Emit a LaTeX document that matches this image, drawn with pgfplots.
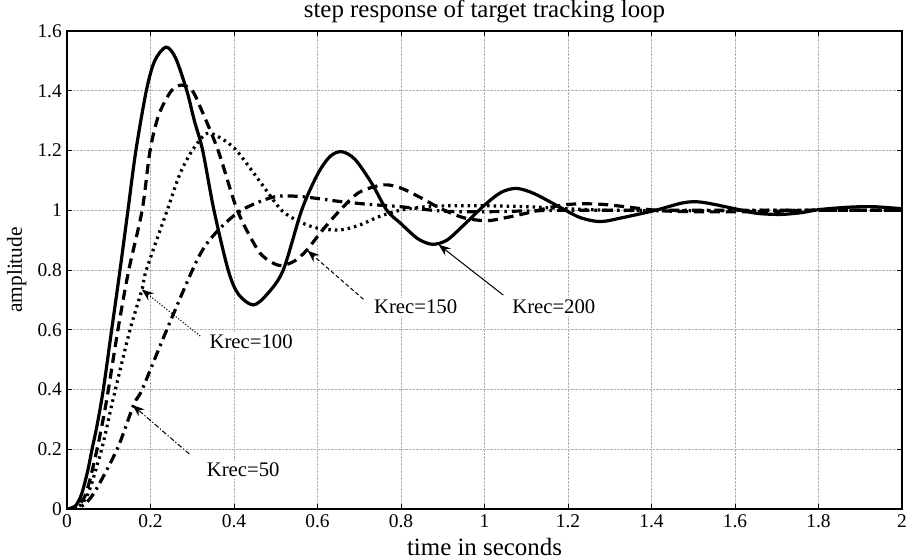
\documentclass[border=0pt]{standalone}
\usepackage{fontspec}
\setmainfont{Liberation Serif}
\usepackage{pgfplots}
\pgfplotsset{compat=1.18}
\usetikzlibrary{arrows.meta}
\newcommand{\tickfont}{\fontsize{19.5}{22}\selectfont}
\newcommand{\annfont}{\fontsize{20.8}{24}\selectfont}
\newcommand{\labfont}{\fontsize{21.5}{26}\selectfont}
\newcommand{\titfont}{\fontsize{25}{29}\selectfont}
\begin{document}
\begin{tikzpicture}
\useasboundingbox (-67bp,-50bp) rectangle (841bp,509bp);
\begin{axis}[
  scale only axis, width=835bp, height=478bp,
  xmin=0, xmax=2, ymin=0, ymax=1.6,
  xtick={0,0.2,0.4,0.6,0.8,1,1.2,1.4,1.6,1.8,2},
  ytick={0,0.2,0.4,0.6,0.8,1,1.2,1.4,1.6},
  /pgf/number format/assume math mode=true,
  tick label style={font=\tickfont},
  xticklabel style={anchor=base, inner sep=0pt, yshift=-19bp},
  yticklabel style={anchor=east, inner sep=0pt, xshift=-5bp},
  tick align=inside, tick pos=both, major tick length=5bp,
  tick style={black, line width=0.8bp},
  axis line style={black, line width=1.2bp},
  grid=major, grid style={gray!60, densely dotted, line width=0.8bp},
  title={step response of target tracking loop},
  xlabel={time in seconds},
  ylabel={amplitude},
  every axis title/.style={at={(0.5,1)}, anchor=base, yshift=13bp, font=\titfont},
  every axis x label/.style={at={(0.5,0)}, anchor=base, yshift=-46bp, font=\titfont},
  every axis y label/.style={at={(-0.0539,0.5)}, rotate=90, anchor=base, font=\labfont},
]
% Krec=200 (solid)
\addplot[black, line width=3.2bp, smooth, tension=0.5] coordinates {
(0,0) (0.02,0.01) (0.035,0.05) (0.05,0.13) (0.06,0.2) (0.072,0.28) (0.087,0.4)
(0.107,0.6) (0.127,0.8) (0.146,1.0) (0.165,1.2) (0.19,1.4) (0.21,1.5) (0.237,1.546)
(0.26,1.51) (0.287,1.4) (0.305,1.3) (0.325,1.2) (0.352,1.0) (0.386,0.8) (0.41,0.72)
(0.446,0.683) (0.48,0.72) (0.518,0.8) (0.562,1.0) (0.6,1.12) (0.63,1.18) (0.658,1.196)
(0.69,1.17) (0.73,1.09) (0.766,1.0) (0.8,0.955) (0.84,0.905) (0.875,0.886) (0.91,0.9)
(0.95,0.95) (1.0,1.017) (1.04,1.06) (1.077,1.073) (1.12,1.055) (1.19,1.003) (1.23,0.975)
(1.277,0.962) (1.33,0.975) (1.41,1.0) (1.476,1.025) (1.52,1.027) (1.6,1.005) (1.65,0.99)
(1.708,0.986) (1.76,0.992) (1.8,1.002) (1.87,1.01) (1.93,1.012) (2.0,1.005)
};
% Krec=150 (dashed)
\addplot[black, line width=3.2bp, smooth, tension=0.5, dash pattern=on 10bp off 6bp] coordinates {
(0,0) (0.02,0.005) (0.045,0.05) (0.072,0.2) (0.095,0.365) (0.122,0.6) (0.148,0.8)
(0.18,1.0) (0.199,1.2) (0.22,1.32) (0.25,1.4) (0.275,1.419) (0.3,1.4) (0.319,1.346)
(0.362,1.2) (0.408,1.0) (0.458,0.865) (0.49,0.826) (0.514,0.815) (0.545,0.83)
(0.574,0.866) (0.61,0.93) (0.654,1.0) (0.7,1.06) (0.758,1.085) (0.8,1.074) (0.85,1.04)
(0.893,1.007) (0.95,0.975) (1.005,0.965) (1.05,0.975) (1.1,0.99) (1.19,1.018)
(1.28,1.02) (1.41,1.0) (1.5,0.995) (1.65,0.995) (1.8,1.0) (2.0,1.0)
};
% Krec=100 (dotted)
\addplot[black, line width=3.2bp, smooth, tension=0.5, dash pattern=on 2.5bp off 4bp] coordinates {
(0,0) (0.025,0.005) (0.05,0.05) (0.083,0.2) (0.11,0.365) (0.151,0.6) (0.18,0.736)
(0.19,0.8) (0.24,1.0) (0.27,1.12) (0.3,1.2) (0.335,1.257) (0.37,1.24) (0.406,1.2)
(0.46,1.1) (0.514,1.0) (0.56,0.96) (0.6,0.94) (0.654,0.934) (0.7,0.95) (0.75,0.98)
(0.798,1.0) (0.86,1.012) (0.917,1.015) (1.0,1.015) (1.1,1.012) (1.2,1.005) (1.3,1.0)
(1.5,0.998) (1.7,1.0) (2.0,1.0)
};
% Krec=50 (dash-dot)
\addplot[black, line width=3.2bp, smooth, tension=0.5, dash pattern=on 10bp off 5bp on 2.5bp off 5bp] coordinates {
(0,0) (0.03,0.005) (0.063,0.05) (0.12,0.2) (0.16,0.35) (0.18,0.4) (0.239,0.6)
(0.314,0.84) (0.36,0.93) (0.418,1.0) (0.494,1.044) (0.558,1.046) (0.65,1.03)
(0.72,1.02) (0.798,1.012) (0.9,0.997) (1.0,0.995) (1.2,1.0) (1.5,1.0) (2.0,1.0)
};
% annotations
\draw[black, line width=1bp, -{Stealth[length=12bp,width=9bp]}] (axis cs:1.045,0.716) -- (axis cs:0.89,0.885);
\draw[black, line width=1bp, dash pattern=on 4bp off 2.5bp, -{Stealth[length=12bp,width=9bp]}] (axis cs:0.710,0.702) -- (axis cs:0.576,0.865);
\draw[black, line width=1bp, dash pattern=on 1.2bp off 1.8bp, -{Stealth[length=12bp,width=9bp]}] (axis cs:0.319,0.579) -- (axis cs:0.179,0.735);
\draw[black, line width=1bp, dash pattern=on 5bp off 2bp on 1.2bp off 2bp, -{Stealth[length=12bp,width=9bp]}] (axis cs:0.293,0.184) -- (axis cs:0.157,0.348);
\node[font=\annfont, fill=white, inner sep=2bp, anchor=base] at (axis cs:1.166,0.653) {Krec=200};
\node[font=\annfont, fill=white, inner sep=2bp, anchor=base] at (axis cs:0.835,0.653) {Krec=150};
\node[font=\annfont, fill=white, inner sep=2bp, anchor=base] at (axis cs:0.441,0.536) {Krec=100};
\node[font=\annfont, fill=white, inner sep=2bp, anchor=base] at (axis cs:0.422,0.108) {Krec=50};
\end{axis}
\end{tikzpicture}
\end{document}
